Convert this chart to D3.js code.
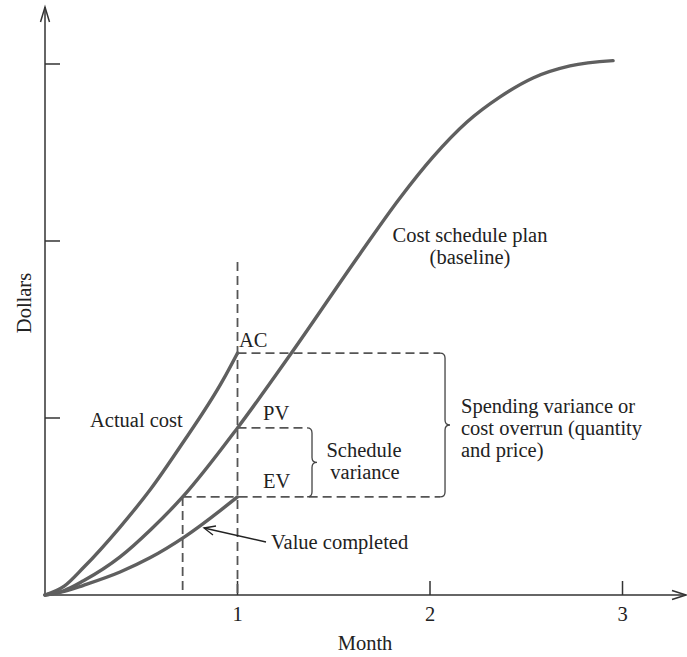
<!DOCTYPE html>
<html><head><meta charset="utf-8">
<script src="https://cdn.jsdelivr.net/npm/d3@7"></script>
<style>html,body{margin:0;padding:0;background:#fff}svg{display:block}text{font-family:"Liberation Serif","Times New Roman",serif;fill:#222;font-size:20.5px}</style>
</head><body><svg id="c" width="687" height="657"></svg>
<script>
// Data (months, dollars in tick units)
const pvMonths = [0, 0.1, 0.2, 0.39, 0.55, 0.715, 1.0, 1.28, 1.636, 1.844, 2.016, 2.192, 2.364, 2.535, 2.727, 2.951];
const pvValues = [0, 0.025, 0.08, 0.215, 0.37, 0.554, 0.944, 1.367, 1.927, 2.243, 2.475, 2.672, 2.814, 2.921, 2.989, 3.019];
const acMonths = [0, 0.1, 0.2, 0.39, 0.55, 0.701, 0.925, 1.0];
const acValues = [0, 0.05, 0.155, 0.384, 0.6, 0.836, 1.215, 1.367];
const evMonths = [0, 0.1, 0.2, 0.39, 0.545, 0.727, 1.0];
const evValues = [0, 0.02, 0.055, 0.13, 0.21, 0.33, 0.554];
const xTicks = [1, 2, 3];
const xTickLabels = ["1", "2", "3"];
const yTicks = [1, 2, 3];
const statusMonth = 1;
const evMonthOnPlan = 0.715;

const svg = d3.select("#c");
const x = d3.scaleLinear().domain([0, 3.335]).range([45, 687]);
const y = d3.scaleLinear().domain([0, 3.322]).range([595, 7]);

const line = d3.line().x(d => x(d[0])).y(d => y(d[1])).curve(d3.curveMonotoneX);
const zip = (a, b) => a.map((v, i) => [v, b[i]]);

const acAt = acValues[acValues.length - 1];
const evAt = evValues[evValues.length - 1];
const pvAt = pvValues[pvMonths.indexOf(statusMonth)];

// axes
const ax = svg.append("g").attr("stroke", "#333").attr("stroke-width", 1.5).attr("fill", "none");
ax.append("line").attr("x1", x(0)).attr("y1", y(0)).attr("x2", x(3.335) - 1).attr("y2", y(0));
ax.append("line").attr("x1", x(0)).attr("y1", y(0)).attr("x2", x(0)).attr("y2", y(3.322));
ax.append("path").attr("d", `M${x(0)-4.5},${y(3.322)+15} L${x(0)},${y(3.322)} L${x(0)+4.5},${y(3.322)+15}`);
ax.append("path").attr("d", `M${x(3.335)-15},${y(0)-4.5} L${x(3.335)-1},${y(0)} L${x(3.335)-15},${y(0)+4.5}`);
xTicks.forEach(t => ax.append("line").attr("x1", x(t)).attr("x2", x(t)).attr("y1", y(0)).attr("y2", y(0) - 14));
yTicks.forEach(t => ax.append("line").attr("x1", x(0)).attr("x2", x(0) + 15).attr("y1", y(t)).attr("y2", y(t)));
xTicks.forEach((t, i) => svg.append("text").attr("x", x(t)).attr("y", 621).attr("text-anchor", "middle").text(xTickLabels[i]));
svg.append("text").attr("x", 365).attr("y", 650).attr("text-anchor", "middle").text("Month");
svg.append("text").attr("transform", "translate(31,303) rotate(-90)").attr("text-anchor", "middle").text("Dollars");

// dashed guides
const bigBx = 2.078, smallBx = 1.387;
const dg = svg.append("g").attr("stroke", "#555").attr("stroke-width", 1.8).attr("stroke-dasharray", "9,5").attr("fill", "none");
dg.append("line").attr("x1", x(statusMonth)).attr("x2", x(statusMonth)).attr("y1", 262).attr("y2", y(0));
dg.append("line").attr("x1", x(evMonthOnPlan)).attr("x2", x(evMonthOnPlan)).attr("y1", y(evAt)).attr("y2", y(0));
dg.append("line").attr("x1", x(statusMonth)).attr("x2", x(bigBx) - 5).attr("y1", y(acAt)).attr("y2", y(acAt));
dg.append("line").attr("x1", x(statusMonth)).attr("x2", x(smallBx) - 5).attr("y1", y(pvAt)).attr("y2", y(pvAt));
dg.append("line").attr("x1", x(evMonthOnPlan)).attr("x2", x(bigBx) - 5).attr("y1", y(evAt)).attr("y2", y(evAt));

function brace(bx, top, bot) {
  const m = (top + bot) / 2;
  const r = 5;
  return `M${bx - r},${top} Q${bx},${top} ${bx},${top + r} L${bx},${m - r} Q${bx},${m} ${bx + r},${m} Q${bx},${m} ${bx},${m + r} L${bx},${bot - r} Q${bx},${bot} ${bx - r},${bot}`;
}
const bg = svg.append("g").attr("stroke", "#444").attr("stroke-width", 1.3).attr("fill", "none");
bg.append("path").attr("d", brace(x(bigBx), y(acAt), y(evAt)));
bg.append("path").attr("d", brace(x(smallBx), y(pvAt), y(evAt)));

// curves
const cg = svg.append("g").attr("stroke", "#5f5f5f").attr("stroke-width", 3.4).attr("fill", "none").attr("stroke-linecap", "round");
cg.append("path").attr("d", line(zip(pvMonths, pvValues)));
cg.append("path").attr("d", line(zip(acMonths, acValues)));
cg.append("path").attr("d", line(zip(evMonths, evValues)));

// arrow for value completed
const ag = svg.append("g").attr("stroke", "#222").attr("stroke-width", 1.3).attr("fill", "none");
ag.append("line").attr("x1", 266).attr("y1", 542).attr("x2", 204).attr("y2", 528);
ag.append("path").attr("d", "M216,526 L204,528 L213,535");

// labels
const lab = (t, px, py, anchor) => svg.append("text").attr("x", px).attr("y", py).attr("text-anchor", anchor || "start").text(t);
lab("AC", 239, 347);
lab("PV", 263, 420);
lab("EV", 263, 488);
lab("Actual cost", 90, 427);
lab("Cost schedule plan", 470, 242, "middle");
lab("(baseline)", 470, 264, "middle");
lab("Schedule", 364, 457, "middle");
lab("variance", 365, 479, "middle");
lab("Spending variance or", 461, 413);
lab("cost overrun (quantity", 461, 435);
lab("and price)", 461, 457);
lab("Value completed", 271, 549);
</script></body></html>
